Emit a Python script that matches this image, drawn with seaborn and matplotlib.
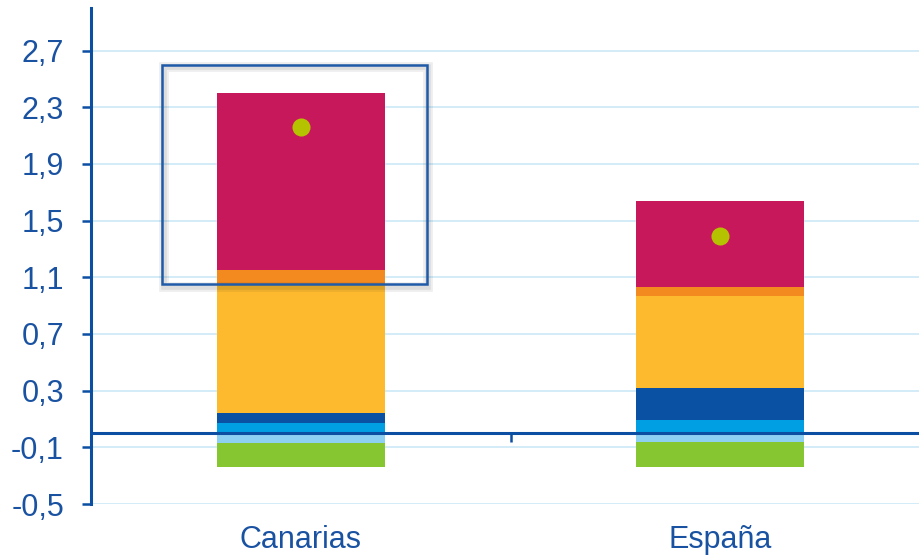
import numpy as np
import matplotlib
matplotlib.use('Agg')
import matplotlib.pyplot as plt
import matplotlib.patheffects as pe
from matplotlib.patches import Rectangle
import seaborn as sns

regions = ['Canarias', 'España']

# contribuciones positivas (de abajo hacia arriba)
bright_blue = [0.07, 0.09]
dark_blue = [0.07, 0.23]
yellow = [0.91, 0.65]
orange = [0.10, 0.06]
magenta = [1.25, 0.61]
# contribuciones negativas (desde cero hacia abajo)
light_blue = [-0.07, -0.06]
green = [-0.17, -0.18]
# total (punto)
total = [2.16, 1.39]

yticks = [-0.5, -0.1, 0.3, 0.7, 1.1, 1.5, 1.9, 2.3, 2.7]

# recuadro que resalta Canarias
box_x = (-0.33, 0.30)
box_y = (1.05, 2.60)

axis_col = '#0B4EA2'
text_col = '#1A52A2'
grid_col = '#CFEAF8'

sns.set_theme(style='white')
plt.rcParams['font.family'] = ['Liberation Sans', 'DejaVu Sans']

fig = plt.figure(figsize=(9.2, 5.55), dpi=100)
ax = fig.add_axes([91 / 920, 1 - 504 / 555, 1 - 91 / 920, (504 - 8) / 555])

pos_series = [bright_blue, dark_blue, yellow, orange, magenta]
pos_colors = ['#009FE3', '#0A50A3', '#FDBA2E', '#F28A20', '#C8185C']
bottom = np.zeros(len(regions))
for vals, col in zip(pos_series, pos_colors):
    sns.barplot(x=regions, y=vals, bottom=bottom, color=col, saturation=1,
                width=0.4, errorbar=None, linewidth=0, ax=ax)
    bottom = bottom + np.array(vals)

neg_series = [light_blue, green]
neg_colors = ['#8DD0F2', '#86C630']
bottom = np.zeros(len(regions))
for vals, col in zip(neg_series, neg_colors):
    sns.barplot(x=regions, y=vals, bottom=bottom, color=col, saturation=1,
                width=0.4, errorbar=None, linewidth=0, ax=ax)
    bottom = bottom + np.array(vals)

sns.stripplot(x=regions, y=total, jitter=False, color='#B5C200', size=13,
              linewidth=0, zorder=4, ax=ax)

# eje horizontal en cero
ax.axhline(0, color=axis_col, lw=2.2, zorder=3)
ax.vlines(0.5, -0.065, 0, color=axis_col, lw=1.8, zorder=3)

rect = Rectangle((box_x[0], box_y[0]), box_x[1] - box_x[0], box_y[1] - box_y[0],
                 fill=False, ec='#1F5BA8', lw=1.8, zorder=5)
rect.set_path_effects([pe.SimpleLineShadow(offset=(1, -2), shadow_color='k',
                                           alpha=0.07, linewidth=7),
                       pe.SimpleLineShadow(offset=(1, -2), shadow_color='k',
                                           alpha=0.08, linewidth=4),
                       pe.Normal()])
ax.add_patch(rect)

ax.set_ylim(-0.5, 3.0)
ax.set_xlim(-0.5, 1.476)
ax.set_yticks(yticks)
ax.set_yticklabels([f'{v:.1f}'.replace('.', ',') for v in yticks])
ax.yaxis.grid(True, color=grid_col, lw=1.3)
ax.xaxis.grid(False)
ax.set_axisbelow(True)
ax.set_xlabel('')
ax.set_ylabel('')

for s in ['top', 'right', 'bottom']:
    ax.spines[s].set_visible(False)
ax.spines['left'].set_color(axis_col)
ax.spines['left'].set_linewidth(2.2)

ax.tick_params(axis='y', direction='out', length=6.5, width=1.8, color=axis_col,
               labelcolor=text_col, labelsize=22, pad=13, left=True)
ax.tick_params(axis='x', length=0, labelcolor=text_col, labelsize=22, pad=15)

fig.savefig('out.png', dpi=100)
